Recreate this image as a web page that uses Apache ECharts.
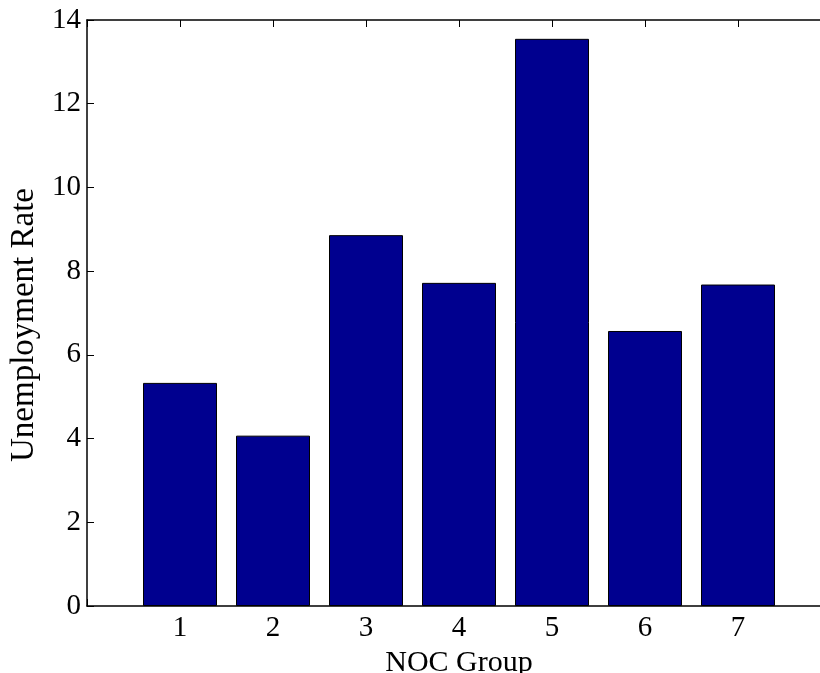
<!DOCTYPE html>
<html>
<head>
<meta charset="utf-8">
<script src="https://cdn.jsdelivr.net/npm/echarts@6/dist/echarts.min.js"></script>
<style>
  html, body { margin: 0; padding: 0; background: #fff; }
  #main { width: 820px; height: 673px; }
</style>
</head>
<body>
<div id="main"></div>
<script>
// NOC groups and unemployment rate
var groups = [1, 2, 3, 4, 5, 6, 7];
var rates = [5.33, 4.07, 8.86, 7.72, 13.55, 6.57, 7.68];
var yTicks = [0, 2, 4, 6, 8, 10, 12, 14];

var font = 'Liberation Serif';
var chart = echarts.init(document.getElementById('main'));

var barData = [];
for (var i = 0; i < groups.length; i++) {
    barData.push([groups[i], rates[i]]);
}

var axisLine = { show: true, lineStyle: { color: '#000', width: 1.5 } };
var tickIn = { show: true, inside: true, length: 7, lineStyle: { color: '#000', width: 1 } };

var option = {
    animation: false,
    backgroundColor: '#fff',
    grid: { left: 87, right: -11, top: 20, bottom: 67, outerBoundsMode: 'none', containLabel: false },
    xAxis: [{
        type: 'value', min: 0, max: 8, interval: 1,
        name: 'NOC Group', nameLocation: 'middle', nameGap: 41,
        nameTextStyle: { fontFamily: font, fontSize: 30, color: '#000' },
        axisLine: axisLine, axisTick: tickIn, splitLine: { show: false },
        axisLabel: {
            fontFamily: font, fontSize: 29, color: '#000', margin: 8,
            formatter: function (v) { return (v >= 1 && v <= 7) ? String(v) : ''; }
        }
    }, {
        type: 'value', min: 0, max: 8, interval: 1, position: 'top',
        axisLine: axisLine, axisTick: tickIn, splitLine: { show: false },
        axisLabel: { show: false }
    }],
    yAxis: [{
        type: 'value', min: 0, max: 14, interval: 2,
        name: 'Unemployment Rate', nameLocation: 'middle', nameGap: 46,
        nameTextStyle: { fontFamily: font, fontSize: 33, color: '#000', padding: [0, 24, 0, 0] },
        axisLine: axisLine, axisTick: tickIn, splitLine: { show: false },
        axisLabel: {
            fontFamily: font, fontSize: 29, color: '#000', margin: 6,
            formatter: function (v) { return yTicks.indexOf(v) >= 0 ? String(v) : ''; }
        }
    }],
    series: [{
        type: 'bar',
        data: barData,
        barWidth: 74,
        itemStyle: { color: '#00008F', borderColor: '#000', borderWidth: 1 }
    }]
};

chart.setOption(option);
</script>
</body>
</html>
